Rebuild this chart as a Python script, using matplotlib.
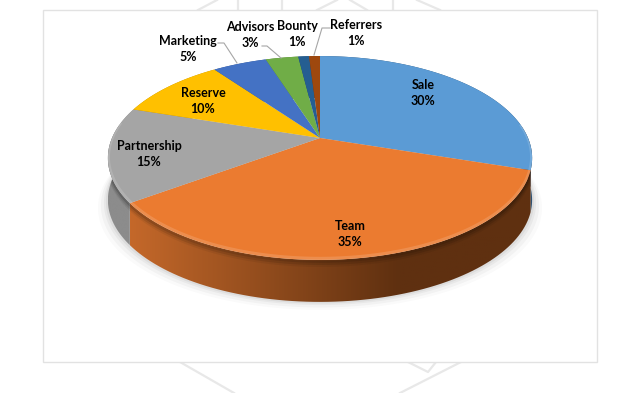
import numpy as np
import matplotlib
matplotlib.use('Agg')
import matplotlib.pyplot as plt
from matplotlib.patches import Polygon, Rectangle

plt.rcParams['font.family'] = ['Lato', 'DejaVu Sans']

labels = ['Sale', 'Team', 'Partnership', 'Reserve', 'Marketing', 'Advisors', 'Bounty', 'Referrers']
shares = [30, 35, 15, 10, 5, 3, 1, 1]
colors = ['#5B9BD5', '#EB7B30', '#A5A5A5', '#FFC000', '#4472C4', '#70AD47', '#255E91', '#9E480E']
wall_left = ['#2F5273', '#C4682A', '#8C8C8C', '#B58900', '#30518C', '#4F7B32', '#1A4367', '#70330A']
wall_right = ['#2F5273', '#5F3010', '#8C8C8C', '#B58900', '#30518C', '#4F7B32', '#1A4367', '#70330A']
label_pos = [(423, 93), (350, 234), (149, 154), (203, 101), (188, 49), (250, 35), (297, 34), (356, 33)]

# pie seen in perspective, numbers fitted to the picture
cx, cy = 320, 138
A, B, P = 208, 98, 0.196
depth = 42


def project(theta):
    x = np.sin(theta)
    y = np.cos(theta)
    d = 1 + P * y
    return cx + A * x / d, cy - B * y / d


fig = plt.figure(figsize=(6.4, 3.93), dpi=100)
ax = fig.add_axes([0, 0, 1, 1])
ax.set_xlim(0, 640)
ax.set_ylim(393, 0)
ax.axis('off')

# watermark behind the frame
for xs, ys in [([180, 234], [362, 393]), ([461, 400], [362, 393]), ([408, 428, 436], [362, 372, 362]),
               ([198, 217], [10, 0]), ([317, 337], [10, 0]), ([350, 367], [0, 10]), ([417, 440], [0, 10]),
               ([238, 238], [0, 10]), ([282, 282], [0, 10]), ([393, 393], [0, 10])]:
    ax.plot(xs, ys, color='#E8E8E8', lw=1.6, zorder=0)

ax.add_patch(Rectangle((43, 10), 554, 352, fc='white', ec='#E2E2E2', lw=1, zorder=1))

th = np.linspace(0, 2 * np.pi, 400)
ox, oy = project(th)

# soft shadow under the pie
for grow, alpha in [(10, 0.02), (7, 0.03), (4, 0.04), (2, 0.05)]:
    ax.add_patch(Polygon(np.c_[cx + (ox - cx) * (1 + grow / 213), oy + depth + grow * 0.8],
                         fc='black', ec='none', alpha=alpha, zorder=2))

fractions = np.cumsum([0] + shares) / sum(shares)
for i in range(len(shares)):
    t = np.linspace(fractions[i], fractions[i + 1], 80) * 2 * np.pi
    px, py = project(t)

    # side wall, gradient clipped to the outline
    wall = Polygon(np.r_[np.c_[px, py], np.c_[px[::-1], py[::-1] + depth]], fc='none', ec='none', zorder=3)
    ax.add_patch(wall)
    c0 = np.array(matplotlib.colors.to_rgb(wall_left[i]))
    c1 = np.array(matplotlib.colors.to_rgb(wall_right[i]))
    x0, x1 = px.min(), px.max()
    xdark = x0 + 0.67 * (x1 - x0)
    s = np.clip((xdark - np.linspace(x0, x1, 200)) / max(xdark - x0, 1), 0, 1)[None, :, None]
    img = ax.imshow(c1 + (c0 - c1) * s, extent=(x0, x1, py.max() + depth, py.min()), aspect='auto', zorder=3)
    img.set_clip_path(wall)

    # top face
    face = Polygon(np.r_[[[cx, cy]], np.c_[px, py]], fc=colors[i], ec='none', zorder=4)
    ax.add_patch(face)

    # bevel on the rim
    front = py > 125
    if front.any():
        rim = ax.plot(px[front], py[front] - 1, color='white', alpha=0.14, lw=3, zorder=5)[0]
        rim.set_clip_path(face)
        for off, alpha, lw in [(5, 0.06, 3), (3, 0.10, 3), (1.5, 0.16, 2)]:
            line = ax.plot(px[front], py[front] + off, color='black', alpha=alpha, lw=lw, zorder=3.5)[0]
            line.set_clip_path(wall)

ax.set_xlim(0, 640)
ax.set_ylim(393, 0)

for name, share, (x, y) in zip(labels, shares, label_pos):
    ax.text(x, y, f'{name}\n{share}%', ha='center', va='center', fontsize=9, fontweight='bold',
            color='black', linespacing=1.42, zorder=6)

# leader lines
for xs, ys in [([218, 224, 237], [43, 43, 63]), ([262, 267, 281], [46, 46, 58]), ([330, 322, 314], [28, 28, 55])]:
    ax.plot(xs, ys, color='#A6A6A6', lw=0.8, zorder=6)

fig.savefig('out.png', dpi=100)
